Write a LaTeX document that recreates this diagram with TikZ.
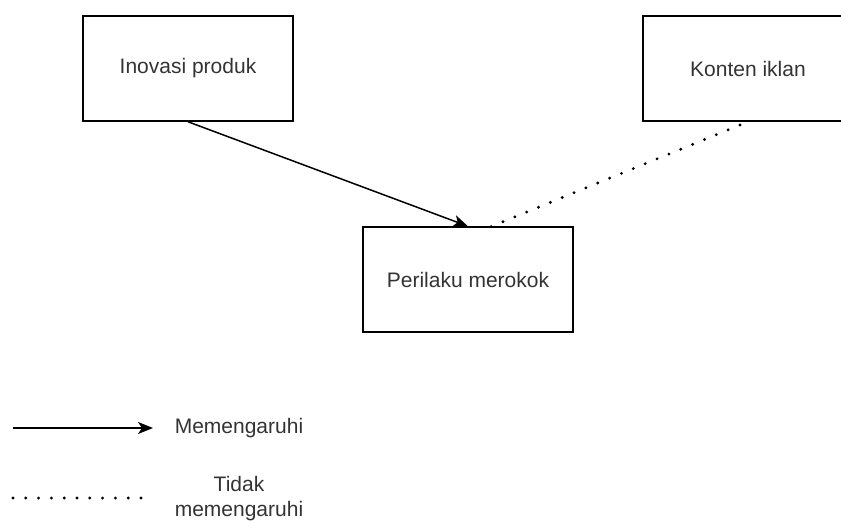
\documentclass[tikz,border=0pt]{standalone}
\usepackage{fontspec}
\setmainfont{Liberation Sans}
\usetikzlibrary{arrows.meta}
\definecolor{txt}{HTML}{333333}
\begin{document}
\begin{tikzpicture}[x=1pt,y=-1pt,
  box/.style={draw=black, line width=1.5pt, minimum width=210pt, minimum height=105pt, inner sep=0pt, text=txt, font=\fontsize{21}{25}\selectfont},
  lbl/.style={text=txt, font=\fontsize{21}{25}\selectfont, align=center, inner sep=0pt},
  solidarrow/.style={line width=1.5pt, -{Stealth[length=15pt,width=12pt,inset=4pt]}},
  dotline/.style={line width=3.2pt, line cap=round, dash pattern=on 0pt off 12.8pt}]
\useasboundingbox (0,0) rectangle (841,520);
\node[box] (inov) at (188,68.5) {Inovasi produk};
\node[box] (kont) at (748,68.5) {Konten iklan};
\node[box] (peri) at (468,279.5) {Perilaku merokok};
\coordinate (ks) at (740,125);
\coordinate (pe) at (490,227);
\draw[solidarrow] (inov.south) -- (peri.north);
\draw[dotline] (ks) -- (pe);
\coordinate (l1a) at (13,428);
\coordinate (l1b) at (153,428);
\coordinate (l2a) at (13,498);
\coordinate (l2b) at (141,498);
\draw[solidarrow] (l1a) -- (l1b);
\node[lbl] (m1) at (239,428) {Memengaruhi};
\draw[dotline] (l2a) -- (l2b);
\node[lbl] (m2) at (239,499) {Tidak\\memengaruhi};
\end{tikzpicture}
\end{document}
